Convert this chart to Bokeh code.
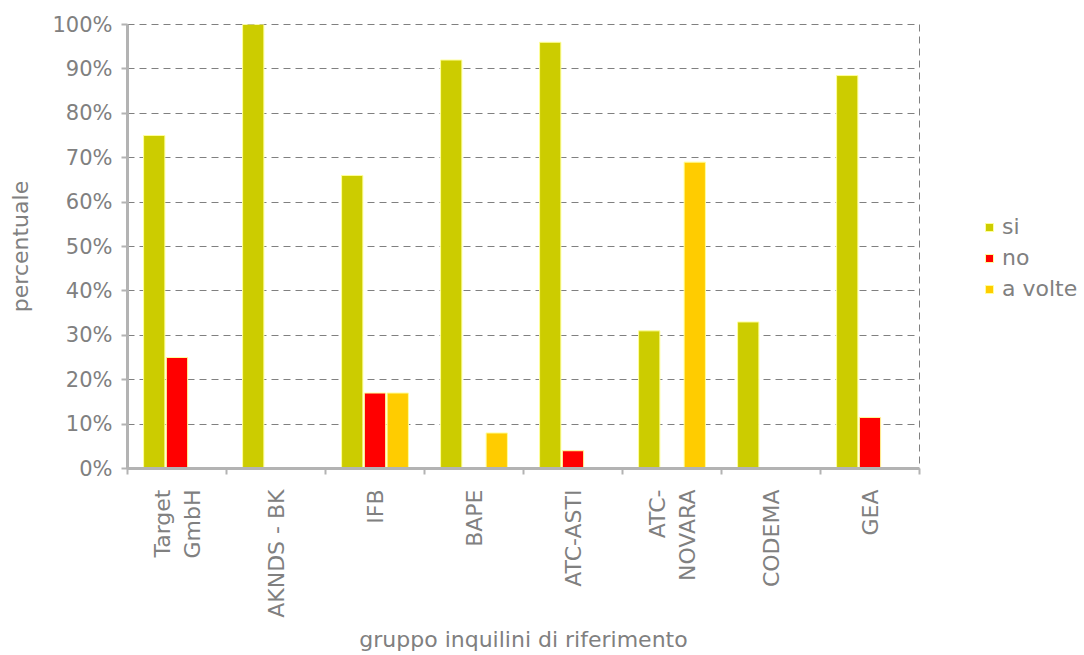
from bokeh.plotting import figure
from bokeh.models import (ColumnDataSource, Range1d, LinearAxis,
                          FixedTicker, PrintfTickFormatter, Legend, LegendItem)
from bokeh.embed import file_html
from bokeh.resources import INLINE
import math

categories = ["Target\nGmbH", "AKNDS - BK", "IFB", "BAPE", "ATC-ASTI", "ATC-\nNOVARA", "CODEMA", "GEA"]
si = [75, 100, 66, 92, 96, 31, 33, 88.5]
no = [25, 0, 17, 0, 4, 0, 0, 11.5]
a_volte = [0, 0, 17, 8, 0, 69, 0, 0]
y_ticks = [0, 10, 20, 30, 40, 50, 60, 70, 80, 90, 100]

series = [("si", si, "#CCCC00", -0.23), ("no", no, "#FF0000", 0.0), ("a volte", a_volte, "#FFCC00", 0.23)]

FONT = "DejaVu Sans"
GRAY = "#808080"
AXIS = "#B3B3B3"
FS = "22px"
FS_TICK = "21px"

n = len(categories)
centers = [i + 0.5 for i in range(n)]
bounds = list(range(n + 1))

p = figure(x_range=Range1d(0, n), y_range=Range1d(0, 100),
           frame_width=792, frame_height=444, min_border_left=127, min_border_top=24,
           min_border_right=5, min_border_bottom=0,
           output_backend="svg", toolbar_location=None, x_axis_location=None,
           y_axis_location="left")

cx = LinearAxis(ticker=FixedTicker(ticks=centers, minor_ticks=bounds),
                major_label_overrides={c: lab for c, lab in zip(centers, categories)},
                axis_line_color=AXIS, axis_line_width=3,
                major_tick_line_color=None, major_tick_out=0, major_tick_in=0,
                minor_tick_line_color=AXIS, minor_tick_line_width=2, minor_tick_out=6, minor_tick_in=0,
                major_label_orientation=math.pi / 2, major_label_text_font=FONT,
                major_label_text_font_size=FS, major_label_text_color=GRAY,
                major_label_standoff=15,
                axis_label="gruppo inquilini di riferimento", axis_label_text_font=FONT,
                axis_label_text_font_size=FS, axis_label_text_color=GRAY,
                axis_label_text_font_style="normal", axis_label_standoff=6)
p.add_layout(cx, "below")

ya = p.yaxis[0]
ya.ticker = FixedTicker(ticks=y_ticks)
ya.formatter = PrintfTickFormatter(format="%d%%")
ya.axis_line_color = AXIS
ya.axis_line_width = 3
ya.major_tick_line_color = AXIS
ya.major_tick_line_width = 2
ya.major_tick_out = 6
ya.major_tick_in = 0
ya.minor_tick_line_color = None
ya.major_label_text_font = FONT
ya.major_label_text_font_size = FS_TICK
ya.major_label_text_color = GRAY
ya.major_label_standoff = 9
ya.axis_label = "percentuale"
ya.axis_label_text_font = FONT
ya.axis_label_text_font_size = FS
ya.axis_label_text_color = GRAY
ya.axis_label_text_font_style = "normal"
ya.axis_label_standoff = 16

p.xgrid.grid_line_color = None
p.ygrid.grid_line_color = GRAY
p.ygrid.grid_line_dash = "7 5"
p.ygrid.grid_line_width = 1
p.ygrid.ticker = FixedTicker(ticks=y_ticks[1:])

p.outline_line_color = GRAY
p.outline_line_dash = "7 5"
p.outline_line_width = 1

items = []
for name, vals, color, off in series:
    xs = [c + off for c, v in zip(centers, vals) if v > 0]
    vv = [v for v in vals if v > 0]
    src = ColumnDataSource(dict(x=xs, top=vv))
    r = p.vbar(x="x", top="top", width=0.215, source=src,
               fill_color=color, line_color="#FFFF99", line_width=1)
    items.append(LegendItem(label=name, renderers=[r]))

legend = Legend(items=items, location=(65, 167), border_line_color=None,
                background_fill_alpha=0, label_text_font=FONT, label_text_font_size=FS,
                label_text_color=GRAY, glyph_width=10, glyph_height=10, spacing=6,
                padding=0, margin=0, label_standoff=8)
p.add_layout(legend, "right")

open("out.html", "w").write(file_html(p, INLINE))
